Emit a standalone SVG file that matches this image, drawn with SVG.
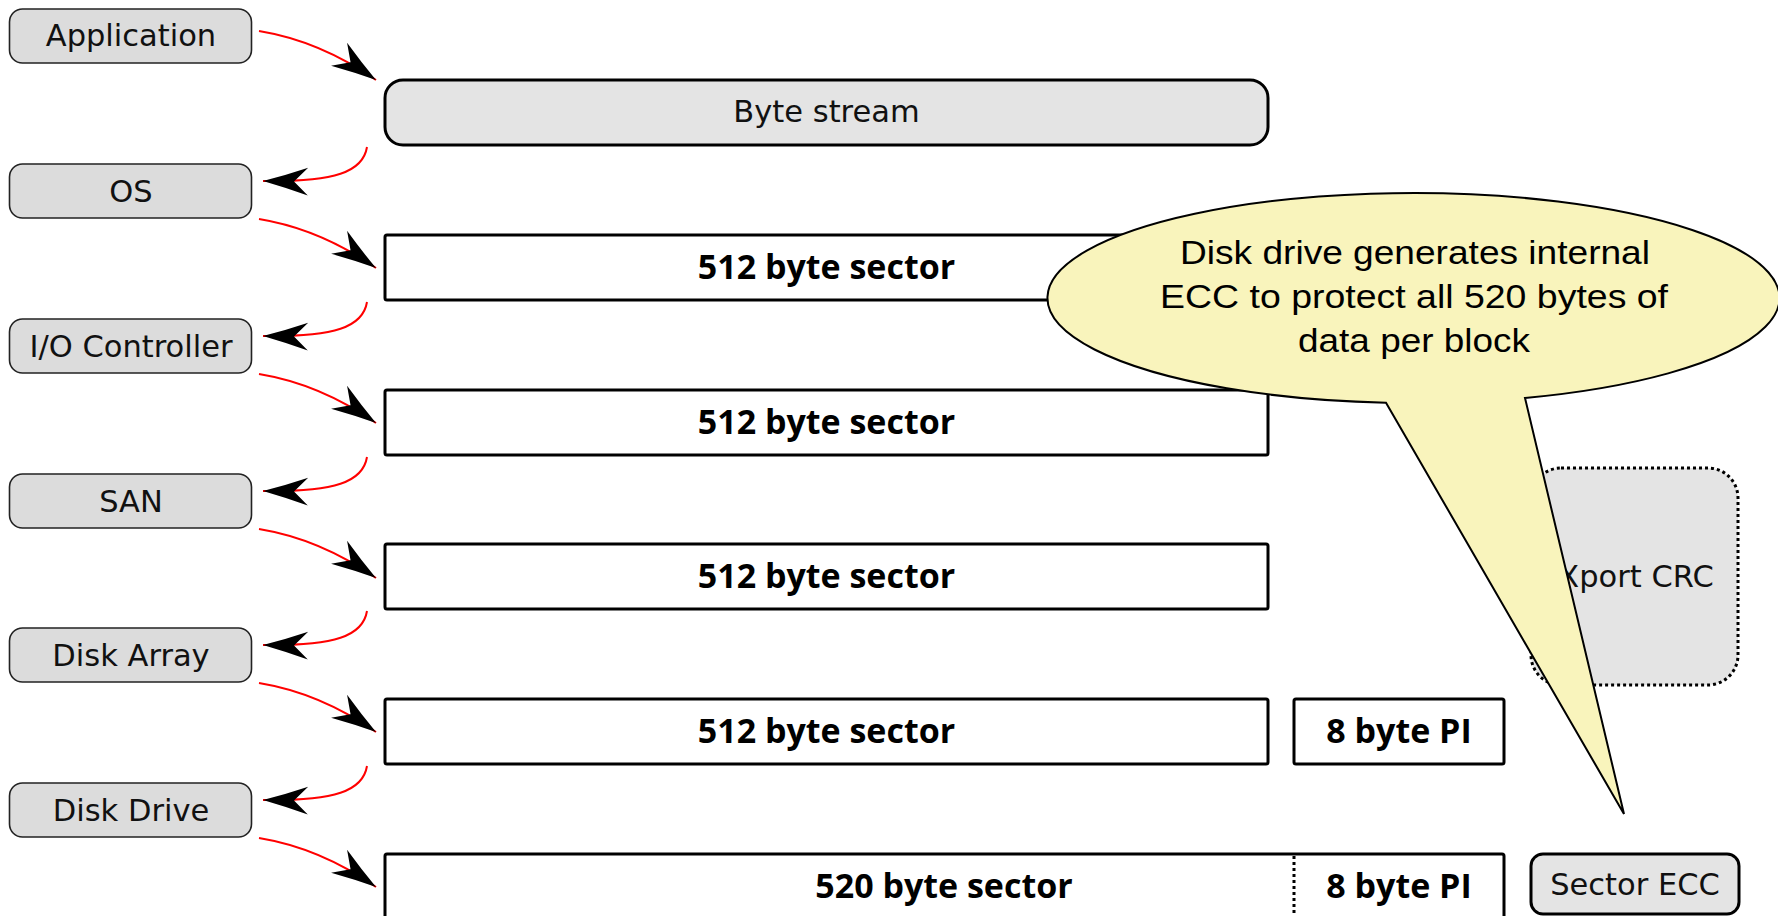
<svg xmlns="http://www.w3.org/2000/svg" width="1778" height="916" viewBox="0 0 1778 916">
<style>
.lbl rect{fill:#dcdcdc;stroke:#222;stroke-width:1.6}
.lbl text,.reg{font-family:"DejaVu Sans",sans-serif;font-size:30.5px;fill:#111;text-anchor:middle}
.bar{fill:#fff;stroke:#000;stroke-width:3}
.gray{fill:#e4e4e4;stroke:#000;stroke-width:3}
.bold{font-family:"Open Sans","DejaVu Sans",sans-serif;font-weight:bold;font-size:34px;fill:#000;text-anchor:middle}
.dot{stroke:#000;stroke-width:3;stroke-dasharray:3 3;fill:none}
.conn path{fill:none;stroke:#ff0000;stroke-width:2;marker-end:url(#ah)}
.callout text{font-family:"Liberation Sans",Arial,sans-serif;font-size:34px;fill:#000;text-anchor:middle}
</style>
<defs>
<marker id="ah" markerUnits="userSpaceOnUse" markerWidth="60" markerHeight="40" refX="0" refY="0" orient="auto" overflow="visible" viewBox="-50 -20 60 40">
<path d="M0,0 Q-22,-6 -45,-14 L-31,0 L-45,14 Q-22,6 0,0 Z" fill="#000"/>
</marker>
</defs>

<g id="labels">
<g id="app" class="lbl"><rect x="9.5" y="9" width="242" height="54" rx="13"/><text x="131" y="46">Application</text></g>
<g id="os" class="lbl"><rect x="9.5" y="164" width="242" height="54" rx="13"/><text x="131" y="201.5">OS</text></g>
<g id="ioc" class="lbl"><rect x="9.5" y="319" width="242" height="54" rx="13"/><text x="131" y="356.5">I/O Controller</text></g>
<g id="san" class="lbl"><rect x="9.5" y="474" width="242" height="54" rx="13"/><text x="131" y="511.5">SAN</text></g>
<g id="array" class="lbl"><rect x="9.5" y="628" width="242" height="54" rx="13"/><text x="131" y="665.5">Disk Array</text></g>
<g id="drive" class="lbl"><rect x="9.5" y="783" width="242" height="54" rx="13"/><text x="131" y="820.5">Disk Drive</text></g>
</g>

<g id="bytestream"><rect class="gray" x="385" y="80" width="883" height="65" rx="18"/><text class="reg" x="826.5" y="122">Byte stream</text></g>
<g id="sector1"><rect class="bar" x="385" y="235" width="883" height="65" rx="2"/><text class="bold" x="826.5" y="279">512 byte sector</text></g>
<g id="sector2"><rect class="bar" x="385" y="390" width="883" height="65" rx="2"/><text class="bold" x="826.5" y="434">512 byte sector</text></g>
<g id="sector3"><rect class="bar" x="385" y="544" width="883" height="65" rx="2"/><text class="bold" x="826.5" y="588">512 byte sector</text></g>
<g id="sector4"><rect class="bar" x="385" y="699" width="883" height="65" rx="2"/><text class="bold" x="826.5" y="743">512 byte sector</text></g>
<g id="pi4"><rect class="bar" x="1294" y="699" width="210" height="65" rx="2"/><text class="bold" x="1399" y="743">8 byte PI</text></g>
<g id="sector5"><rect class="bar" x="385" y="854" width="1119" height="80" rx="2"/><line class="dot" x1="1294" y1="856" x2="1294" y2="916"/><text class="bold" x="944" y="898">520 byte sector</text><text class="bold" x="1399" y="898">8 byte PI</text></g>
<g id="sectorecc"><rect class="gray" x="1531" y="854" width="208" height="60" rx="12"/><text class="reg" x="1635" y="895">Sector ECC</text></g>
<g id="xport"><rect x="1531" y="468" width="207" height="217" rx="30" fill="#e4e4e4"/><rect class="dot" x="1531" y="468" width="207" height="217" rx="30"/><text class="reg" x="1636" y="587">Xport CRC</text></g>

<g id="connectors" class="conn">
<path d="M259,31 Q320,41 376,80"/>
<path d="M367,147 C363,172 335,182 263,181"/>
<path d="M259,219 Q320,229 376,268"/>
<path d="M367,302 C363,327 335,337 263,336"/>
<path d="M259,374 Q320,384 376,423"/>
<path d="M367,457 C363,482 335,492 263,491"/>
<path d="M259,529 Q320,539 376,578"/>
<path d="M367,611 C363,636 335,646 263,645"/>
<path d="M259,683 Q320,693 376,732"/>
<path d="M367,766 C363,791 335,801 263,800"/>
<path d="M259,838 Q320,848 376,887"/>
</g>

<g id="callout" class="callout">
<path d="M1386,402.7 A366,105 0 1 1 1525,398 L1624,814 Z" fill="#f9f4bc" stroke="#000" stroke-width="2"/>
<text x="1415" y="264" textLength="470" lengthAdjust="spacingAndGlyphs">Disk drive generates internal</text>
<text x="1414" y="308" textLength="508" lengthAdjust="spacingAndGlyphs">ECC to protect all 520 bytes of</text>
<text x="1414" y="352" textLength="232" lengthAdjust="spacingAndGlyphs">data per block</text>
</g>
</svg>
